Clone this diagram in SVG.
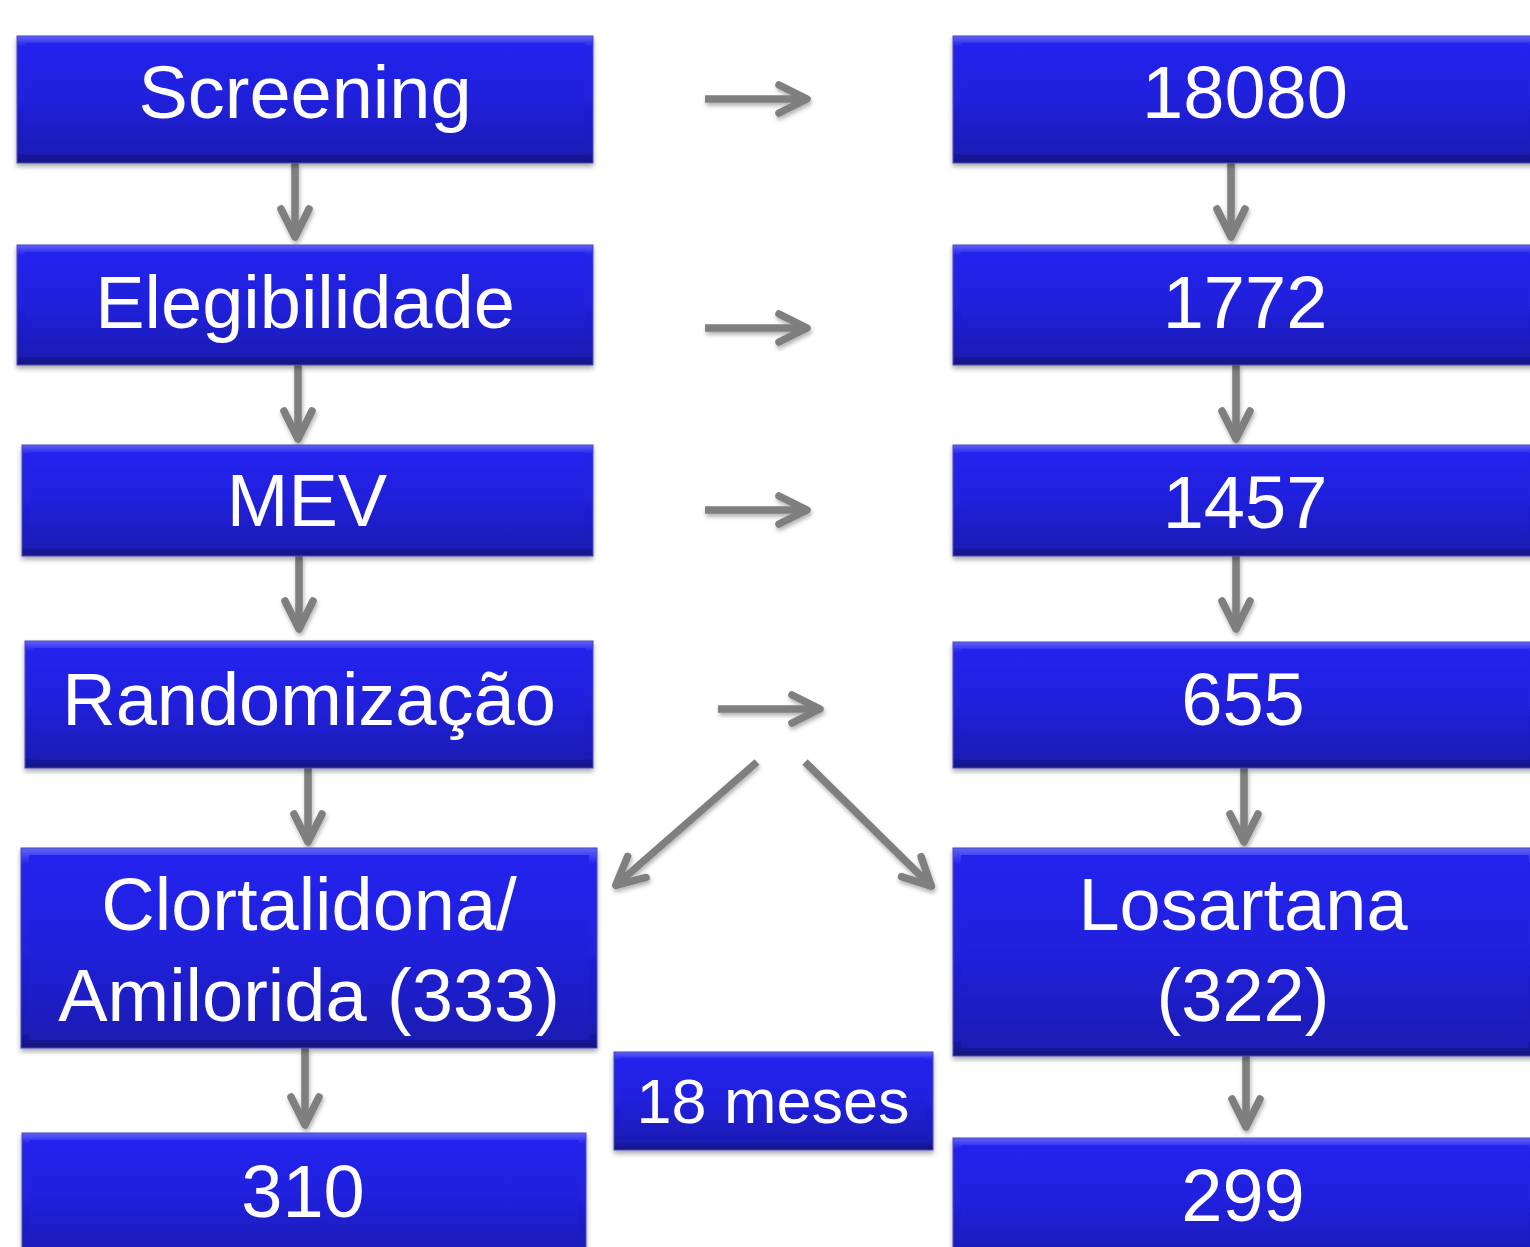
<svg xmlns="http://www.w3.org/2000/svg" width="1530" height="1247" viewBox="0 0 1530 1247">
<defs>
<linearGradient id="gOuter" x1="0" y1="0" x2="0" y2="1">
<stop offset="0" stop-color="#6262f8"/>
<stop offset="0.05" stop-color="#3a3af2"/>
<stop offset="0.08" stop-color="#2424ec"/>
<stop offset="0.5" stop-color="#2020dc"/>
<stop offset="0.92" stop-color="#1b1bb2"/>
<stop offset="0.95" stop-color="#17179a"/>
<stop offset="1" stop-color="#12127e"/>
</linearGradient>
<linearGradient id="gInner" x1="0" y1="0" x2="0" y2="1">
<stop offset="0" stop-color="#2323ee"/>
<stop offset="0.5" stop-color="#2020dc"/>
<stop offset="1" stop-color="#1b1bb4"/>
</linearGradient>
<filter id="shadow" x="-10%" y="-10%" width="120%" height="130%">
<feDropShadow dx="0" dy="3" stdDeviation="2.5" flood-color="#000" flood-opacity="0.35"/>
</filter>
<filter id="ashadow" x="-20%" y="-20%" width="140%" height="150%">
<feDropShadow dx="1" dy="3" stdDeviation="2" flood-color="#000" flood-opacity="0.3"/>
</filter>
<marker id="head" markerUnits="userSpaceOnUse" markerWidth="50" markerHeight="50" viewBox="-40 -25 50 50" refX="0" refY="0" orient="auto">
<path d="M -29 -14 L -1 0 L -29 14" fill="none" stroke="#7f7f7f" stroke-width="7.5" stroke-linecap="round" stroke-linejoin="round"/>
</marker>
</defs>
<style>
.outer{fill:url(#gOuter);stroke:#4a4ab8;stroke-width:1;filter:url(#shadow);}
.inner{fill:url(#gInner);}
.t{font-family:"Liberation Sans",Arial,sans-serif;fill:#ffffff;text-anchor:middle;font-size:74px;}
.ts{font-size:63px;}
.conn line{stroke:#7f7f7f;stroke-width:7.5;marker-end:url(#head);}
.conn{filter:url(#ashadow);}
</style>
<rect width="1530" height="1247" fill="#ffffff"/>

<g id="connectors" class="conn">
<line x1="295" y1="163" x2="295" y2="238"/>
<line x1="298" y1="365" x2="298" y2="440"/>
<line x1="299" y1="556" x2="299" y2="630"/>
<line x1="308" y1="768" x2="308" y2="843"/>
<line x1="305" y1="1048" x2="305" y2="1126"/>
<line x1="1231" y1="163" x2="1231" y2="238"/>
<line x1="1236" y1="365" x2="1236" y2="440"/>
<line x1="1236" y1="556" x2="1236" y2="630"/>
<line x1="1244" y1="768" x2="1244" y2="843"/>
<line x1="1246" y1="1056" x2="1246" y2="1128"/>
<line x1="705" y1="99" x2="808" y2="99"/>
<line x1="705" y1="328" x2="808" y2="328"/>
<line x1="705" y1="510" x2="808" y2="510"/>
<line x1="718" y1="709" x2="821" y2="709"/>
<line x1="757" y1="762" x2="615" y2="886"/>
<line x1="805" y1="762" x2="932" y2="887"/>
</g>

<g id="n-screening"><rect class="outer" x="17" y="36" width="576" height="127"/><rect class="inner" x="25" y="43" width="560" height="112"/><text class="t" x="305" y="118">Screening</text></g>
<g id="n-elegibilidade"><rect class="outer" x="17" y="245" width="576" height="120"/><rect class="inner" x="25" y="252" width="560" height="105"/><text class="t" x="305" y="328">Elegibilidade</text></g>
<g id="n-mev"><rect class="outer" x="22" y="445" width="571" height="111"/><rect class="inner" x="30" y="452" width="555" height="96"/><text class="t" x="307" y="526">MEV</text></g>
<g id="n-randomizacao"><rect class="outer" x="25" y="641" width="568" height="127"/><rect class="inner" x="33" y="648" width="552" height="112"/><text class="t" x="309" y="725">Randomização</text></g>
<g id="n-clortalidona"><rect class="outer" x="21" y="848" width="576" height="200"/><rect class="inner" x="29" y="855" width="560" height="185"/><text class="t" x="309" y="930">Clortalidona/</text><text class="t" x="309" y="1021">Amilorida (333)</text></g>
<g id="n-310"><rect class="outer" x="22" y="1133" width="564" height="130"/><rect class="inner" x="30" y="1140" width="548" height="115"/><text class="t" x="303" y="1217">310</text></g>

<g id="n-18080"><rect class="outer" x="953" y="36" width="584" height="127"/><rect class="inner" x="961" y="43" width="568" height="112"/><text class="t" x="1245" y="118">18080</text></g>
<g id="n-1772"><rect class="outer" x="953" y="245" width="584" height="120"/><rect class="inner" x="961" y="252" width="568" height="105"/><text class="t" x="1245" y="328">1772</text></g>
<g id="n-1457"><rect class="outer" x="953" y="445" width="584" height="111"/><rect class="inner" x="961" y="452" width="568" height="96"/><text class="t" x="1245" y="528">1457</text></g>
<g id="n-655"><rect class="outer" x="953" y="642" width="584" height="126"/><rect class="inner" x="961" y="649" width="568" height="111"/><text class="t" x="1243" y="725">655</text></g>
<g id="n-losartana"><rect class="outer" x="953" y="848" width="584" height="208"/><rect class="inner" x="961" y="855" width="568" height="193"/><text class="t" x="1243" y="930">Losartana</text><text class="t" x="1243" y="1021">(322)</text></g>
<g id="n-299"><rect class="outer" x="953" y="1138" width="584" height="130"/><rect class="inner" x="961" y="1145" width="568" height="115"/><text class="t" x="1243" y="1221">299</text></g>

<g id="n-18meses"><rect class="outer" x="614" y="1052" width="319" height="98"/><rect class="inner" x="621" y="1058" width="305" height="85"/><text class="t ts" x="773" y="1123">18 meses</text></g>
</svg>
